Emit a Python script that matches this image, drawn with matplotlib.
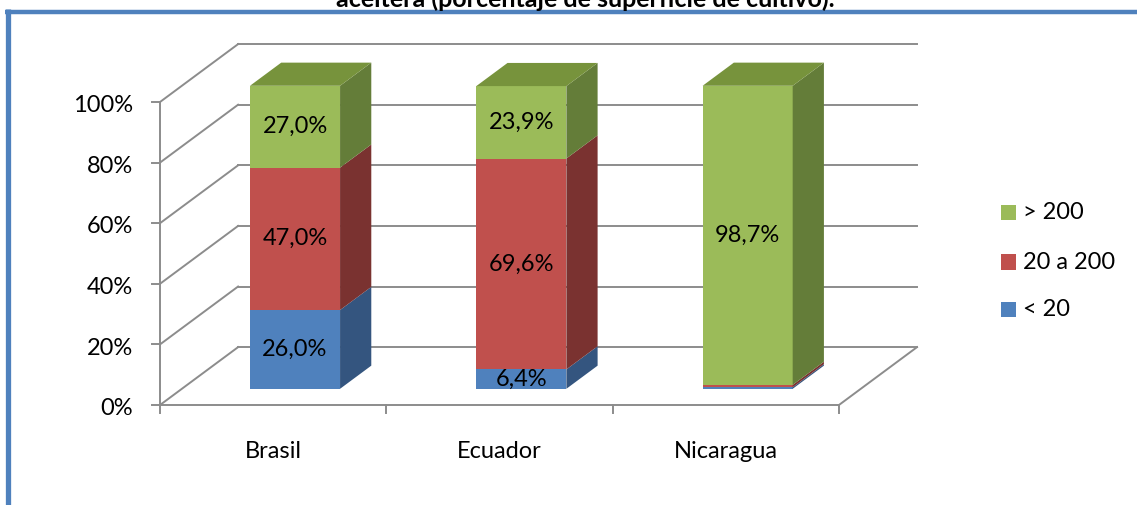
import matplotlib.pyplot as plt
from matplotlib.patches import Polygon, Rectangle
from matplotlib.lines import Line2D

plt.rcParams['font.family'] = ['Lato', 'DejaVu Sans']

# Share of cultivated area by farm size class (%)
countries = ['Brasil', 'Ecuador', 'Nicaragua']
size_classes = ['< 20', '20 a 200', '> 200']
share_small = [26.0, 6.4, 0.5]
share_mid = [47.0, 69.6, 0.8]
share_large = [27.0, 23.9, 98.7]
y_ticks = [0, 20, 40, 60, 80, 100]
title = 'aceitera (porcentaje de superficie de cultivo).'

face_colors = ['#4F81BD', '#C0504D', '#9BBB59']
side_colors = ['#34557F', '#7A3230', '#647D39']
top_colors = ['#3F6899', '#9C413E', '#77933C']
grid_color = '#8C8C8C'

# oblique projection: full depth of the plot box in data units
DX, DY = 0.345, 19.1
D0, DEPTH = 0.28, 0.40      # bar front offset and bar depth (fraction of box)
BAR_W = 0.398

fig = plt.figure(figsize=(11.37, 5.05), dpi=100)
ax = fig.add_axes([0, 0, 1, 1])
ax.set_xlim(-0.707, 4.317)
ax.set_ylim(-33.0, 133.66)
ax.axis('off')

n = len(countries)
lw = 1.4

# walls: side-wall diagonals and back-wall gridlines
for t in y_ticks:
    ax.plot([0, DX], [t, t + DY], color=grid_color, lw=lw, zorder=1)
    ax.plot([DX, n + DX], [t + DY, t + DY], color=grid_color, lw=lw, zorder=1)
    ax.plot([-0.035, 0], [t, t], color=grid_color, lw=lw, zorder=1)
    ax.text(-0.119, t - 1.2, f'{t}%', ha='right', va='center', fontsize=17)

# floor and axes
ax.plot([0, 0], [0, 100], color=grid_color, lw=lw, zorder=1)
ax.plot([0, n], [0, 0], color=grid_color, lw=lw, zorder=1)
ax.plot([n, n + DX], [0, DY], color=grid_color, lw=lw, zorder=1)
for i in range(n + 1):
    ax.plot([i, i], [0, -2.6], color=grid_color, lw=lw, zorder=1)

for i, name in enumerate(countries):
    ax.text(i + 0.5, -15.5, name, ha='center', va='center', fontsize=17)

# stacked 3D columns
segments = [share_small, share_mid, share_large]
for i in range(n):
    x0 = i + 0.5 - BAR_W / 2 + D0 * DX
    x1 = x0 + BAR_W
    base = D0 * DY
    bottom = 0.0
    for k, series in enumerate(segments):
        v = series[i]
        yb = base + bottom
        yt = yb + v
        ax.add_patch(Rectangle((x0, yb), BAR_W, v, facecolor=face_colors[k],
                               edgecolor='none', zorder=3))
        ax.add_patch(Polygon([(x1, yb), (x1 + DEPTH * DX, yb + DEPTH * DY),
                              (x1 + DEPTH * DX, yt + DEPTH * DY), (x1, yt)],
                             closed=True, facecolor=side_colors[k],
                             edgecolor='none', zorder=3))
        if k == len(segments) - 1:
            ax.add_patch(Polygon([(x0, yt), (x0 + DEPTH * DX, yt + DEPTH * DY),
                                  (x1 + DEPTH * DX, yt + DEPTH * DY), (x1, yt)],
                                 closed=True, facecolor=top_colors[k],
                                 edgecolor='none', zorder=3))
        if v >= 5:
            label = f'{v:.1f}'.replace('.', ',') + '%'
            ax.text((x0 + x1) / 2, yb + v / 2, label, ha='center', va='center',
                    fontsize=17, zorder=5)
        bottom += v

# legend, largest class on top
sq_w, sq_h = 15 / 226.3, 15 / 3.03
legend_rows = [213, 262, 309]
for row, k in zip(legend_rows, [2, 1, 0]):
    yc = (405 - row) / 3.03
    xs = (1001 - 160) / 226.3
    ax.add_patch(Rectangle((xs, yc - sq_h / 2), sq_w, sq_h,
                           facecolor=face_colors[k], edgecolor='none'))
    ax.text((1023 - 160) / 226.3, yc, size_classes[k], ha='left', va='center',
            fontsize=17)

# chart frame (left and top edges)
W, H = 1137, 505
fig.add_artist(Line2D([7.5 / W, 7.5 / W], [0, 1 - 9 / H], color='#4F81BD',
                      lw=3.8, solid_capstyle='butt'))
fig.add_artist(Line2D([5 / W, 1], [1 - 11.5 / H, 1 - 11.5 / H], color='#4F81BD',
                      lw=3.2, solid_capstyle='butt'))

fig.text(585 / W, 1 - 7 / H, title, ha='center', va='baseline',
         fontsize=18, fontweight='bold')

fig.savefig('out.png', dpi=100)
